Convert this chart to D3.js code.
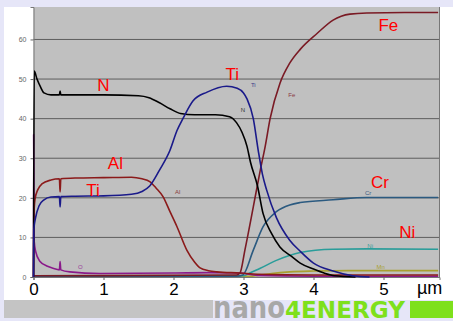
<!DOCTYPE html>
<html>
<head>
<meta charset="utf-8">
<script src="https://cdn.jsdelivr.net/npm/d3@7"></script>
<style>
  body { margin: 0; background: #e6e6f8; }
  svg { display: block; font-family: "Liberation Sans", Arial, sans-serif; }
  .yAxis text { font-size: 7px; fill: #666; }
  .yAxis line { stroke: #666; }
  .xAxis text { font-size: 17px; fill: #000; }
  .xAxis line { stroke: #666; }
  .bigLabel { font-size: 17px; fill: #ff0000; }
  .smallLabel { font-size: 6px; }
</style>
</head>
<body>
<div id="chart"></div>
<script>
const W = 453, H = 321;

// depth (µm) and concentration (at.%) per element
const nDepth  = [0, 0.01, 0.05, 0.1, 0.15, 0.25, 0.37, 0.38, 0.39, 0.5, 1.0, 1.5, 1.65, 1.8, 1.95, 2.1, 2.3, 2.6, 2.8, 2.9, 2.98, 3.05, 3.1, 3.2, 3.28, 3.4, 3.52, 3.7, 3.81, 4.0, 4.15, 4.3, 4.6];
const nValue  = [0, 52, 50, 48, 46.5, 46, 46, 47, 46, 46, 46, 45.8, 45.3, 44, 42.5, 41.3, 41, 41, 40.5, 39, 36.5, 33, 29, 23, 16, 11, 7.6, 5, 3.5, 2, 1, 0.3, 0];

const tiDepth = [0, 0.005, 0.03, 0.08, 0.15, 0.25, 0.37, 0.38, 0.39, 0.6, 1.0, 1.4, 1.55, 1.66, 1.8, 1.95, 2.05, 2.14, 2.28, 2.48, 2.76, 2.91, 3.0, 3.05, 3.14, 3.21, 3.27, 3.33, 3.47, 3.66, 3.81, 4.0, 4.28, 4.56, 4.8];
const tiValue = [0, 12, 15, 18, 19.5, 20.2, 20.3, 17.7, 20.3, 20.4, 20.5, 20.9, 21.6, 23, 27, 32, 37, 40.2, 44.5, 46.7, 48.2, 47.7, 46.5, 45, 40, 32, 26, 22, 15, 9.3, 6.5, 3.5, 1.5, 0.3, 0];

const alDepth = [0, 0.005, 0.02, 0.06, 0.12, 0.25, 0.37, 0.38, 0.39, 0.6, 1.0, 1.4, 1.55, 1.66, 1.75, 1.85, 1.95, 2.05, 2.19, 2.3, 2.38, 2.5, 2.62, 2.95, 3.2, 4.0, 5.78];
const alValue = [0, 15, 19.5, 22, 23.5, 24.5, 24.8, 21.5, 24.8, 25, 25.1, 25.2, 24.8, 24.1, 22.5, 20.3, 16.5, 12.7, 6.8, 3.8, 2.3, 1.6, 1.3, 1.0, 0.7, 0.5, 0.5];

const feDepth = [0, 2.9, 2.95, 3.02, 3.14, 3.24, 3.31, 3.38, 3.52, 3.66, 3.81, 4.05, 4.28, 4.52, 4.76, 5.3, 5.78];
const feValue = [0.3, 0.5, 1.0, 6.8, 17.7, 27, 33, 40, 48.9, 54, 57.5, 61.5, 64.9, 66.4, 66.7, 66.8, 66.8];

const crDepth = [0, 2.9, 2.99, 3.14, 3.28, 3.47, 3.66, 3.81, 4.28, 4.76, 5.78];
const crValue = [0.2, 0.2, 0.5, 6.8, 12.7, 16.5, 18.2, 18.8, 19.5, 20.1, 20.1];

const niDepth = [0, 3.0, 3.09, 3.24, 3.47, 3.81, 4.28, 4.76, 5.78];
const niValue = [0.3, 0.3, 1.0, 2.2, 4.2, 6.2, 7.0, 7.1, 7.0];

const mnDepth = [0, 3.1, 3.2, 3.4, 3.66, 4.0, 4.5, 5.78];
const mnValue = [0.2, 0.2, 0.4, 0.9, 1.3, 1.5, 1.6, 1.6];

const oDepth  = [0, 0.002, 0.01, 0.03, 0.09, 0.2, 0.28, 0.37, 0.38, 0.39, 0.52, 0.95, 2.0, 2.5, 2.95, 3.2, 4.0, 5.78];
const oValue  = [0, 36, 9, 6.5, 4, 2.7, 2.2, 1.8, 3.9, 1.8, 1.3, 0.9, 1.0, 1.1, 1.0, 0.4, 0.2, 0.2];

const series = [
  { name: 'Mn', depth: mnDepth, value: mnValue, colour: '#a8a030' },
  { name: 'Ni', depth: niDepth, value: niValue, colour: '#2a9d9a' },
  { name: 'Cr', depth: crDepth, value: crValue, colour: '#2b5a80' },
  { name: 'O',  depth: oDepth,  value: oValue,  colour: '#8a1a8a' },
  { name: 'Al', depth: alDepth, value: alValue, colour: '#8b1a1a' },
  { name: 'Fe', depth: feDepth, value: feValue, colour: '#7a1a24' },
  { name: 'N',  depth: nDepth,  value: nValue,  colour: '#000000' },
  { name: 'Ti', depth: tiDepth, value: tiValue, colour: '#1a1a8a' }
];

const yTicks = [0, 10, 20, 30, 40, 50, 60];
const xTicks = [0, 1, 2, 3, 4, 5];

// small series labels near the curves [name, depth, value, colour]
const smallLabels = [
  ['Ti', 3.14, 48.5, '#3a3a8a'], ['N', 2.99, 42.2, '#333'], ['Fe', 3.69, 46, '#8a3a44'],
  ['Al', 2.06, 21.5, '#8a3a3a'], ['Cr', 4.78, 21.2, '#3a5a80'], ['Ni', 4.81, 7.9, '#3a9d9a'],
  ['Mn', 4.96, 2.6, '#a8a030'], ['O', 0.67, 2.6, '#9a3a9a']
];

// red annotations [text, depth, value]
const bigLabels = [
  ['N', 1.0, 48.6], ['Ti', 2.84, 51.2], ['Fe', 5.07, 63.6], ['Al', 1.17, 28.8],
  ['Ti', 0.85, 21.9], ['Cr', 4.95, 24.0], ['Ni', 5.34, 11.3]
];

const margin = { top: 7, right: 13.5, bottom: 44, left: 33.5 };

const svg = d3.select('#chart').append('svg')
  .attr('width', W)
  .attr('height', H);

// white panel
svg.append('rect')
  .attr('x', 4).attr('y', 7)
  .attr('width', W - 4).attr('height', 293)
  .attr('fill', '#ffffff');

const x = d3.scaleLinear()
  .domain([0, 5.8])
  .range([margin.left, W - margin.right]);

const y = d3.scaleLinear()
  .domain([0, 68.2])
  .range([H - margin.bottom, margin.top]);

// plot area
svg.append('rect')
  .attr('x', x(0)).attr('y', y(68.2))
  .attr('width', x(5.8) - x(0)).attr('height', y(0) - y(68.2))
  .attr('fill', '#c0c0c0');

svg.selectAll('line.grid')
  .data(yTicks.filter(d => d > 0))
  .enter()
  .append('line')
  .attr('class', 'grid')
  .attr('x1', x(0)).attr('x2', x(5.8))
  .attr('y1', d => y(d)).attr('y2', d => y(d))
  .attr('stroke', '#5e5e5e')
  .attr('stroke-width', 1);

// right border
svg.append('line')
  .attr('x1', x(5.8)).attr('x2', x(5.8))
  .attr('y1', y(68.2)).attr('y2', y(0))
  .attr('stroke', '#777');

const yAxis = d3.axisLeft(y).tickValues(yTicks).tickSize(3).tickPadding(4);
svg.append('g')
  .attr('class', 'axis yAxis')
  .attr('transform', `translate(${x(0)},0)`)
  .call(yAxis)
  .select('path').attr('stroke', '#777');

const xAxis = d3.axisBottom(x).tickValues(xTicks).tickSize(3).tickPadding(3).tickFormat(d3.format('d'));
svg.append('g')
  .attr('class', 'axis xAxis')
  .attr('transform', `translate(0,${y(0)})`)
  .call(xAxis)
  .select('path').attr('stroke', '#777');

svg.append('text')
  .attr('x', 417).attr('y', 294)
  .style('font-size', '18px')
  .text('µm');

const line = d3.line()
  .x(d => x(d[0]))
  .y(d => y(d[1]))
  .curve(d3.curveMonotoneX);

svg.selectAll('path.series')
  .data(series)
  .enter()
  .append('path')
  .attr('class', 'series')
  .attr('d', d => line(d.depth.map((t, i) => [t, d.value[i]])))
  .attr('fill', 'none')
  .attr('stroke', d => d.colour)
  .attr('stroke-width', 1.6)
  .attr('stroke-linejoin', 'round');

svg.selectAll('text.smallLabel')
  .data(smallLabels)
  .enter()
  .append('text')
  .attr('class', 'smallLabel')
  .attr('x', d => x(d[1]))
  .attr('y', d => y(d[2]))
  .attr('text-anchor', 'middle')
  .attr('dy', '0.35em')
  .style('fill', d => d[3])
  .text(d => d[0]);

svg.selectAll('text.bigLabel')
  .data(bigLabels)
  .enter()
  .append('text')
  .attr('class', 'bigLabel')
  .attr('x', d => x(d[1]))
  .attr('y', d => y(d[2]))
  .attr('text-anchor', 'middle')
  .attr('dy', '0.35em')
  .text(d => d[0]);

// logo band
svg.append('rect')
  .attr('x', 4).attr('y', 300)
  .attr('width', 209).attr('height', 18)
  .attr('fill', '#c4c4c4');

svg.append('text')
  .attr('x', 213).attr('y', 318)
  .attr('textLength', 72).attr('lengthAdjust', 'spacingAndGlyphs')
  .style('font-family', 'DejaVu Sans').style('font-weight', 'bold')
  .style('font-size', '31px').style('fill', '#a8a8a8')
  .text('nano');

svg.append('text')
  .attr('x', 285).attr('y', 318)
  .attr('textLength', 120).attr('lengthAdjust', 'spacingAndGlyphs')
  .style('font-family', 'DejaVu Sans').style('font-weight', 'bold')
  .style('font-size', '23.5px').style('fill', '#7ee01c')
  .text('4ENERGY');

svg.append('rect')
  .attr('x', 410).attr('y', 301)
  .attr('width', W - 410).attr('height', 17)
  .attr('fill', '#7ee01c');
</script>
</body>
</html>
